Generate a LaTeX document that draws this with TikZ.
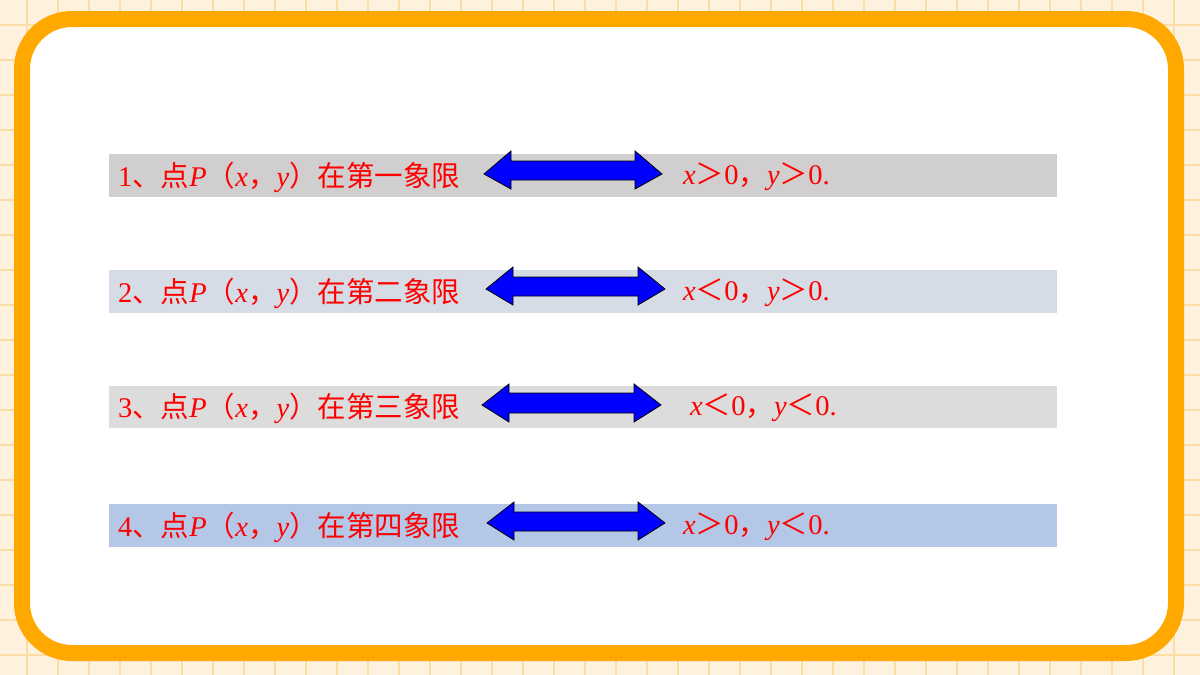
\documentclass[tikz,border=0pt]{standalone}
\usepackage{fontspec}
\setmainfont{Liberation Serif}
\newfontfamily\cjk{Noto Sans CJK SC}
\definecolor{gridc}{HTML}{FCDDA6}
\definecolor{bgc}{HTML}{FEF2DF}
\definecolor{frame}{HTML}{FFA800}
\definecolor{r1}{HTML}{D0CECE}\definecolor{r2}{HTML}{D6DCE5}\definecolor{r3}{HTML}{DCDCDC}\definecolor{r4}{HTML}{B4C7E7}
\begin{document}
\begin{tikzpicture}[x=1pt,y=-1pt,
  lab/.style={anchor=west,text=red,font=\fontsize{28.5}{28.5}\selectfont,inner sep=0pt},
  arr/.style={fill=blue,draw=black,line width=0.8pt,line join=miter}]
\useasboundingbox (0,0) rectangle (1200,675);
\fill[bgc] (0,0) rectangle (1200,675);
\foreach \i in {0,...,38} {\draw[gridc,line width=1.5pt] (27+31*\i-31,0) -- (27+31*\i-31,675);}
\foreach \j in {0,...,20} {\draw[gridc,line width=1.5pt] (0,25+35*\j-35) -- (1200,25+35*\j-35);}
\draw[frame,fill=white,line width=16pt,rounded corners=50pt] (22,19) rectangle (1176,653);
\fill[r1] (109,154) rectangle (1057,197);
\node[lab] (t1) at (118,177) {1{\cjk 、点}\textit{P}{\cjk （}\textit{x}{\cjk ，}\textit{y}{\cjk ）在第一象限}};
\path[arr] (484,174) -- (511,151) -- (511,161) -- (635,161) -- (635,151) -- (662,174) -- (635,189) -- (635,180) -- (511,180) -- (511,189) -- cycle;
\node[lab] (v1) at (683,177) {\textit{x}{\cjk ＞}0{\cjk ，}\textit{y}{\cjk ＞}0.};
\fill[r2] (109,270) rectangle (1057,313);
\node[lab] (t2) at (118,293) {2{\cjk 、点}\textit{P}{\cjk （}\textit{x}{\cjk ，}\textit{y}{\cjk ）在第二象限}};
\path[arr] (486,289) -- (513,267) -- (513,277) -- (638,277) -- (638,267) -- (665,289) -- (638,305) -- (638,296) -- (513,296) -- (513,305) -- cycle;
\node[lab] (v2) at (683,293) {\textit{x}{\cjk ＜}0{\cjk ，}\textit{y}{\cjk ＞}0.};
\fill[r3] (109,386) rectangle (1057,428);
\node[lab] (t3) at (118,408) {3{\cjk 、点}\textit{P}{\cjk （}\textit{x}{\cjk ，}\textit{y}{\cjk ）在第三象限}};
\path[arr] (482,405) -- (509,384) -- (509,393) -- (634,393) -- (634,384) -- (661,405) -- (634,422) -- (634,413) -- (509,413) -- (509,422) -- cycle;
\node[lab] (v3) at (690,408) {\textit{x}{\cjk ＜}0{\cjk ，}\textit{y}{\cjk ＜}0.};
\fill[r4] (109,504) rectangle (1057,547);
\node[lab] (t4) at (118,527) {4{\cjk 、点}\textit{P}{\cjk （}\textit{x}{\cjk ，}\textit{y}{\cjk ）在第四象限}};
\path[arr] (487,523) -- (514,502) -- (514,512) -- (638,512) -- (638,502) -- (665,523) -- (638,540) -- (638,531) -- (514,531) -- (514,540) -- cycle;
\node[lab] (v4) at (683,527) {\textit{x}{\cjk ＞}0{\cjk ，}\textit{y}{\cjk ＜}0.};
\end{tikzpicture}
\end{document}
